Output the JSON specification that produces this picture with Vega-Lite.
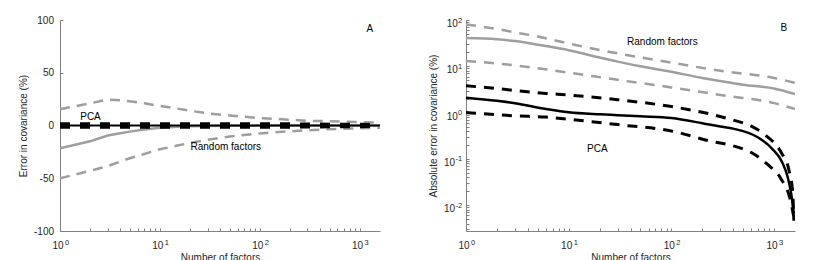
{
  "$schema": "https://vega.github.io/schema/vega-lite/v6.json",
  "padding": {"left": 18, "top": 15, "right": 0, "bottom": 0},
  "bounds": "flush",
  "spacing": 86,
  "config": {
    "font": "Liberation Sans",
    "view": {"stroke": null},
    "axis": {
      "domainColor": "#808080", "tickColor": "#808080", "domainWidth": 1, "tickWidth": 1,
      "labelColor": "#262626", "titleColor": "#262626",
      "labelFont": "Liberation Sans", "titleFont": "Liberation Sans",
      "labelFontSize": 10, "titleFontSize": 10, "titleFontWeight": "normal",
      "grid": false, "tickSize": -3, "labelFlush": false, "labelOverlap": false
    },
    "axisY": {"labelPadding": 9.5, "titlePadding": 4.5},
    "axisX": {"labelPadding": 12.5, "titlePadding": 2}
  },
  "datasets": {
    "A": [
      {"s": "rnd_hi", "x": 1, "y": 15.5}, {"s": "rnd_hi", "x": 2, "y": 21}, {"s": "rnd_hi", "x": 3, "y": 24.5}, {"s": "rnd_hi", "x": 4, "y": 24}, {"s": "rnd_hi", "x": 5, "y": 23}, {"s": "rnd_hi", "x": 7, "y": 21}, {"s": "rnd_hi", "x": 10, "y": 18.5}, {"s": "rnd_hi", "x": 15, "y": 16}, {"s": "rnd_hi", "x": 20, "y": 14}, {"s": "rnd_hi", "x": 30, "y": 11.5}, {"s": "rnd_hi", "x": 50, "y": 9.5}, {"s": "rnd_hi", "x": 100, "y": 7}, {"s": "rnd_hi", "x": 200, "y": 5.5}, {"s": "rnd_hi", "x": 300, "y": 4.5}, {"s": "rnd_hi", "x": 500, "y": 4}, {"s": "rnd_hi", "x": 1000, "y": 3.2}, {"s": "rnd_hi", "x": 1600, "y": 2.8},
      {"s": "rnd_lo", "x": 1, "y": -50}, {"s": "rnd_lo", "x": 2, "y": -43}, {"s": "rnd_lo", "x": 3, "y": -38.5}, {"s": "rnd_lo", "x": 5, "y": -31}, {"s": "rnd_lo", "x": 7, "y": -27}, {"s": "rnd_lo", "x": 10, "y": -22.5}, {"s": "rnd_lo", "x": 15, "y": -19}, {"s": "rnd_lo", "x": 20, "y": -16.5}, {"s": "rnd_lo", "x": 30, "y": -13.5}, {"s": "rnd_lo", "x": 50, "y": -10.5}, {"s": "rnd_lo", "x": 100, "y": -7.5}, {"s": "rnd_lo", "x": 200, "y": -5.5}, {"s": "rnd_lo", "x": 300, "y": -4.5}, {"s": "rnd_lo", "x": 500, "y": -3.5}, {"s": "rnd_lo", "x": 1000, "y": -2.7}, {"s": "rnd_lo", "x": 1600, "y": -2.2},
      {"s": "rnd", "x": 1, "y": -21.5}, {"s": "rnd", "x": 2, "y": -15}, {"s": "rnd", "x": 3, "y": -9.5}, {"s": "rnd", "x": 4, "y": -7.3}, {"s": "rnd", "x": 5, "y": -5.8}, {"s": "rnd", "x": 7, "y": -3.8}, {"s": "rnd", "x": 10, "y": -2.2}, {"s": "rnd", "x": 15, "y": -1.2}, {"s": "rnd", "x": 20, "y": -0.7}, {"s": "rnd", "x": 50, "y": -0.3}, {"s": "rnd", "x": 100, "y": -0.1}, {"s": "rnd", "x": 1600, "y": 0},
      {"s": "pca_hi", "x": 1, "y": 1.3}, {"s": "pca_hi", "x": 100, "y": 1.2}, {"s": "pca_hi", "x": 300, "y": 1.0}, {"s": "pca_hi", "x": 1000, "y": 0.6}, {"s": "pca_hi", "x": 1600, "y": 0.3},
      {"s": "pca_lo", "x": 1, "y": -1.3}, {"s": "pca_lo", "x": 100, "y": -1.2}, {"s": "pca_lo", "x": 300, "y": -1.0}, {"s": "pca_lo", "x": 1000, "y": -0.6}, {"s": "pca_lo", "x": 1600, "y": -0.3},
      {"s": "pca", "x": 1, "y": 0}, {"s": "pca", "x": 10, "y": 0}, {"s": "pca", "x": 100, "y": 0}, {"s": "pca", "x": 1000, "y": 0}, {"s": "pca", "x": 1600, "y": 0}
    ],
    "B": [
      {"s": "rnd_hi", "x": 1, "y": 80}, {"s": "rnd_hi", "x": 2, "y": 64}, {"s": "rnd_hi", "x": 3, "y": 54}, {"s": "rnd_hi", "x": 5, "y": 44}, {"s": "rnd_hi", "x": 10, "y": 31}, {"s": "rnd_hi", "x": 30, "y": 19}, {"s": "rnd_hi", "x": 100, "y": 12}, {"s": "rnd_hi", "x": 300, "y": 8}, {"s": "rnd_hi", "x": 1000, "y": 5.6}, {"s": "rnd_hi", "x": 1600, "y": 4.4},
      {"s": "rnd", "x": 1, "y": 41}, {"s": "rnd", "x": 2, "y": 38.5}, {"s": "rnd", "x": 3, "y": 35}, {"s": "rnd", "x": 4, "y": 32}, {"s": "rnd", "x": 6, "y": 27.5}, {"s": "rnd", "x": 10, "y": 22.3}, {"s": "rnd", "x": 20, "y": 15.5}, {"s": "rnd", "x": 30, "y": 12.6}, {"s": "rnd", "x": 50, "y": 10}, {"s": "rnd", "x": 100, "y": 7.6}, {"s": "rnd", "x": 200, "y": 5.6}, {"s": "rnd", "x": 300, "y": 4.8}, {"s": "rnd", "x": 500, "y": 4}, {"s": "rnd", "x": 1000, "y": 3.3}, {"s": "rnd", "x": 1600, "y": 2.5},
      {"s": "rnd_lo", "x": 1, "y": 13}, {"s": "rnd_lo", "x": 2, "y": 11.5}, {"s": "rnd_lo", "x": 4, "y": 9.7}, {"s": "rnd_lo", "x": 10, "y": 7.3}, {"s": "rnd_lo", "x": 30, "y": 5.1}, {"s": "rnd_lo", "x": 100, "y": 3.5}, {"s": "rnd_lo", "x": 300, "y": 2.4}, {"s": "rnd_lo", "x": 1000, "y": 1.6}, {"s": "rnd_lo", "x": 1600, "y": 1.2},
      {"s": "pca_hi", "x": 1, "y": 3.8}, {"s": "pca_hi", "x": 2, "y": 3.3}, {"s": "pca_hi", "x": 3, "y": 3.0}, {"s": "pca_hi", "x": 6, "y": 2.6}, {"s": "pca_hi", "x": 10, "y": 2.4}, {"s": "pca_hi", "x": 30, "y": 1.9}, {"s": "pca_hi", "x": 100, "y": 1.35}, {"s": "pca_hi", "x": 250, "y": 0.91}, {"s": "pca_hi", "x": 390, "y": 0.7}, {"s": "pca_hi", "x": 600, "y": 0.51}, {"s": "pca_hi", "x": 840, "y": 0.315}, {"s": "pca_hi", "x": 1170, "y": 0.139}, {"s": "pca_hi", "x": 1400, "y": 0.056}, {"s": "pca_hi", "x": 1515, "y": 0.0205}, {"s": "pca_hi", "x": 1560, "y": 0.0046},
      {"s": "pca", "x": 1, "y": 2.1}, {"s": "pca", "x": 2, "y": 1.8}, {"s": "pca", "x": 3, "y": 1.6}, {"s": "pca", "x": 6, "y": 1.2}, {"s": "pca", "x": 10, "y": 1.02}, {"s": "pca", "x": 20, "y": 0.92}, {"s": "pca", "x": 30, "y": 0.88}, {"s": "pca", "x": 50, "y": 0.83}, {"s": "pca", "x": 100, "y": 0.76}, {"s": "pca", "x": 200, "y": 0.59}, {"s": "pca", "x": 300, "y": 0.5}, {"s": "pca", "x": 400, "y": 0.45}, {"s": "pca", "x": 700, "y": 0.29}, {"s": "pca", "x": 960, "y": 0.165}, {"s": "pca", "x": 1200, "y": 0.085}, {"s": "pca", "x": 1360, "y": 0.04}, {"s": "pca", "x": 1470, "y": 0.0174}, {"s": "pca", "x": 1560, "y": 0.0065},
      {"s": "pca_lo", "x": 1, "y": 1.0}, {"s": "pca_lo", "x": 2, "y": 0.9}, {"s": "pca_lo", "x": 3, "y": 0.85}, {"s": "pca_lo", "x": 6, "y": 0.8}, {"s": "pca_lo", "x": 10, "y": 0.72}, {"s": "pca_lo", "x": 30, "y": 0.55}, {"s": "pca_lo", "x": 100, "y": 0.4}, {"s": "pca_lo", "x": 250, "y": 0.237}, {"s": "pca_lo", "x": 390, "y": 0.194}, {"s": "pca_lo", "x": 600, "y": 0.137}, {"s": "pca_lo", "x": 870, "y": 0.075}, {"s": "pca_lo", "x": 1170, "y": 0.037}, {"s": "pca_lo", "x": 1420, "y": 0.0147}, {"s": "pca_lo", "x": 1560, "y": 0.0055}
    ],
    "labA": [
      {"x": 2.02, "y": 7.7, "t": "PCA"}, {"x": 45.7, "y": -20.3, "t": "Random factors"}, {"x": 1262, "y": 91.8, "t": "A"}
    ],
    "labB": [
      {"x": 81.7, "y": 33.3, "t": "Random factors"}, {"x": 19, "y": 0.167, "t": "PCA"}, {"x": 1247, "y": 67, "t": "B"}
    ]
  },
  "hconcat": [
    {
      "width": 320, "height": 211,
      "resolve": {"axis": {"x": "independent", "y": "independent"}},
      "layer": [
        {
          "encoding": {
            "x": {"field": "x", "type": "quantitative", "title": "Number of factors",
              "scale": {"type": "log", "domain": [1, 1600], "nice": false},
              "axis": {"orient": "bottom", "values": [1,2,3,4,5,6,7,8,9,10,20,30,40,50,60,70,80,90,100,200,300,400,500,600,700,800,900,1000],
                "labelAlign": "center", "labelOffset": -2.5,
                "labelExpr": "indexof([1,10,100,1000], datum.value) >= 0 ? '10' : ''"}},
            "y": {"field": "y", "type": "quantitative", "title": "Error in covariance (%)",
              "scale": {"domain": [-100, 100], "nice": false},
              "axis": {"orient": "left", "values": [-100, -50, 0, 50, 100], "labelExpr": "'' + datum.value"}}
          },
          "layer": [
            {"data": {"name": "A"}, "transform": [{"filter": {"field": "s", "oneOf": ["rnd_hi", "rnd_lo"]}}],
             "mark": {"type": "line", "color": "#9e9e9e", "strokeWidth": 2.5, "strokeDash": [10, 7], "clip": true},
             "encoding": {"detail": {"field": "s"}}},
            {"data": {"name": "A"}, "transform": [{"filter": {"field": "s", "equal": "rnd"}}],
             "mark": {"type": "line", "color": "#9e9e9e", "strokeWidth": 2.5, "clip": true}, "encoding": {}},
            {"data": {"name": "A"}, "transform": [{"filter": {"field": "s", "oneOf": ["pca_hi", "pca_lo"]}}],
             "mark": {"type": "line", "color": "#000000", "strokeWidth": 4, "strokeDash": [10, 10], "clip": true},
             "encoding": {"detail": {"field": "s"}}},
            {"data": {"name": "A"}, "transform": [{"filter": {"field": "s", "equal": "pca"}}],
             "mark": {"type": "line", "color": "#000000", "strokeWidth": 2, "clip": true}, "encoding": {}},
            {"data": {"name": "labA"},
             "mark": {"type": "text", "fontSize": 10, "color": "#000000", "align": "center", "baseline": "middle"},
             "encoding": {"text": {"field": "t"}}}
          ]
        },
        {
          "data": {"name": "A"},
          "mark": {"type": "point", "opacity": 0},
          "encoding": {
            "x": {"field": "x", "type": "quantitative",
              "scale": {"type": "log", "domain": [1, 1600], "nice": false},
              "axis": {"orient": "bottom", "title": null, "domain": false, "tickOpacity": 0,
                "values": [1, 10, 100, 1000], "labelAlign": "left", "labelOffset": 4.5, "labelPadding": 10.5, "labelFontSize": 7.5,
                "labelExpr": "'' + round(log(datum.value)/LN10)"}},
            "y": {"field": "y", "type": "quantitative", "scale": {"domain": [-100, 100], "nice": false}, "axis": null}
          }
        }
      ]
    },
    {
      "width": 329, "height": 211,
      "resolve": {"axis": {"x": "independent", "y": "independent"}},
      "layer": [
        {
          "encoding": {
            "x": {"field": "x", "type": "quantitative", "title": "Number of factors",
              "scale": {"type": "log", "domain": [1, 1600], "nice": false},
              "axis": {"orient": "bottom", "values": [1,2,3,4,5,6,7,8,9,10,20,30,40,50,60,70,80,90,100,200,300,400,500,600,700,800,900,1000],
                "labelAlign": "center", "labelOffset": -2.5,
                "labelExpr": "indexof([1,10,100,1000], datum.value) >= 0 ? '10' : ''"}},
            "y": {"field": "y", "type": "quantitative", "title": "Absolute error in covariance (%)",
              "scale": {"type": "log", "domain": [0.00277, 100], "nice": false},
              "axis": {"orient": "left", "values": [0.003,0.004,0.005,0.006,0.007,0.008,0.009,0.01,0.02,0.03,0.04,0.05,0.06,0.07,0.08,0.09,0.1,0.2,0.3,0.4,0.5,0.6,0.7,0.8,0.9,1,2,3,4,5,6,7,8,9,10,20,30,40,50,60,70,80,90,100],
                "labelOffset": 3.5,
                "labelPadding": {"condition": {"test": "datum.value < 1", "value": 14.5}, "value": 11.7},
                "labelExpr": "indexof([0.01,0.1,1,10,100], datum.value) >= 0 ? '10' : ''"}}
          },
          "layer": [
            {"data": {"name": "B"}, "transform": [{"filter": {"field": "s", "oneOf": ["rnd_hi", "rnd_lo"]}}],
             "mark": {"type": "line", "color": "#9e9e9e", "strokeWidth": 2.5, "strokeDash": [10, 8], "clip": true, "interpolate": "monotone"},
             "encoding": {"detail": {"field": "s"}}},
            {"data": {"name": "B"}, "transform": [{"filter": {"field": "s", "equal": "rnd"}}],
             "mark": {"type": "line", "color": "#9e9e9e", "strokeWidth": 2.5, "clip": true, "interpolate": "monotone"}, "encoding": {}},
            {"data": {"name": "B"}, "transform": [{"filter": {"field": "s", "oneOf": ["pca_hi", "pca_lo"]}}],
             "mark": {"type": "line", "color": "#000000", "strokeWidth": 3, "strokeDash": [10, 8], "clip": true, "interpolate": "monotone"},
             "encoding": {"detail": {"field": "s"}}},
            {"data": {"name": "B"}, "transform": [{"filter": {"field": "s", "equal": "pca"}}],
             "mark": {"type": "line", "color": "#000000", "strokeWidth": 2.5, "clip": true, "interpolate": "monotone"}, "encoding": {}},
            {"data": {"name": "labB"},
             "mark": {"type": "text", "fontSize": 10, "color": "#000000", "align": "center", "baseline": "middle"},
             "encoding": {"text": {"field": "t"}}}
          ]
        },
        {
          "data": {"name": "B"},
          "mark": {"type": "point", "opacity": 0},
          "encoding": {
            "x": {"field": "x", "type": "quantitative",
              "scale": {"type": "log", "domain": [1, 1600], "nice": false},
              "axis": {"orient": "bottom", "title": null, "domain": false, "tickOpacity": 0,
                "values": [1, 10, 100, 1000], "labelAlign": "left", "labelOffset": 4.5, "labelPadding": 10.5, "labelFontSize": 7.5,
                "labelExpr": "'' + round(log(datum.value)/LN10)"}},
            "y": {"field": "y", "type": "quantitative",
              "scale": {"type": "log", "domain": [0.00277, 100], "nice": false},
              "axis": {"orient": "left", "title": null, "domain": false, "tickOpacity": 0,
                "values": [0.01, 0.1, 1, 10, 100], "labelAlign": "right", "labelBaseline": "middle", "labelPadding": 7.3, "labelFontSize": 7.5,
                "labelExpr": "'' + round(log(datum.value)/LN10)"}}
          }
        }
      ]
    }
  ]
}
